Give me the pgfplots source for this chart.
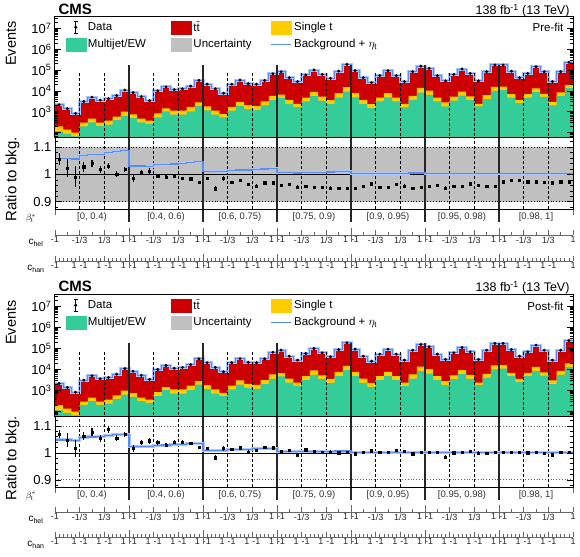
\documentclass[border=0pt]{standalone}
\usepackage{pgfplots}
\pgfplotsset{compat=1.18}
\usepackage{pgfplotstable}
\usepackage{fontspec}
\setmainfont{Liberation Sans}

\definecolor{cgreen}{RGB}{52,204,153}
\definecolor{cred}{RGB}{204,0,0}
\definecolor{cyel}{RGB}{255,204,0}
\definecolor{cgrey}{RGB}{192,192,192}
\definecolor{cblue}{RGB}{88,140,245}
\definecolor{clblue}{RGB}{170,198,255}
\newcommand{\fs}[1]{\fontsize{#1}{#1}\selectfont}

% G = Multijet/EW, Y = Multijet/EW + single t, T = total background
\pgfplotstableread{
x G Y T
0 115 200 2150
1 87 138 1400
2 66 100 830
3 200 300 3100
4 310 465 5000
5 210 300 3600
6 240 370 4200
7 400 580 6000
8 640 1000 11000
9 500 745 8300
10 310 465 5300
11 260 370 3400
12 535 830 10000
13 1040 1440 15500
14 720 1120 11500
15 720 1120 12500
16 1040 1730 17000
17 1930 2780 32000
18 1150 1790 21000
19 720 1120 12500
20 535 775 7800
21 1120 1730 21000
22 1930 3000 33000
23 1350 2090 22000
24 1200 1850 21000
25 2000 3100 32000
26 3600 5800 66000
27 4650 6700 83000
28 2400 3730 43000
29 1670 2400 28000
30 3100 4800 58000
31 5600 9000 100000
32 3450 5300 62000
33 2330 3600 40000
34 4800 7800 89000
35 9300 15000 186000
36 4900 7800 93000
37 2330 3730 43000
38 1500 2330 25000
39 3100 4800 54000
40 4900 7800 93000
41 3100 4800 54000
42 1610 2400 28000
43 3730 5800 83000
44 8300 13800 155000
45 6450 10400 120000
46 3100 4800 54000
47 1790 2780 30000
48 3450 5300 62000
49 6000 9300 112000
50 3600 5500 69000
51 1790 2400 30000
52 4000 6200 83000
53 10000 15500 175000
54 11000 16000 175000
55 4800 7000 89000
56 2600 3600 43000
57 4800 7000 69000
58 8700 13200 145000
59 5100 7200 83000
60 2000 3000 28000
61 5600 8500 83000
62 13400 19500 235000
63 13400 19500 235000
}\mainT

\pgfplotstableread{
x R1 E1 B1 U1 L1 R2 E2 B2
0 1.056 .022 1.059 1.101 .899 1.069 .015 1.048
1 1.024 .032 1.059 1.101 .899 1.048 .027 1.048
2 0.991 .038 1.056 1.101 .899 1.016 .033 1.046
3 1.028 .018 1.070 1.101 .899 1.061 .015 1.057
4 1.040 .013 1.072 1.101 .899 1.078 .015 1.059
5 1.019 .013 1.074 1.101 .899 1.054 .012 1.060
6 1.030 .012 1.080 1.101 .899 1.087 .012 1.064
7 1.001 .010 1.083 1.101 .899 1.055 .010 1.067
8 1.018 .008 1.086 1.101 .899 1.069 .010 1.069
9 0.985 .012 1.031 1.101 .899 1.016 .012 1.024
10 1.007 .010 1.031 1.101 .899 1.039 .010 1.024
11 1.012 .012 1.029 1.101 .899 1.045 .012 1.023
12 0.994 .008 1.036 1.101 .899 1.039 .008 1.028
13 0.991 .006 1.037 1.101 .899 1.030 .006 1.029
14 0.995 .007 1.038 1.101 .899 1.039 .007 1.030
15 0.985 .007 1.041 1.101 .899 1.039 .007 1.032
16 0.984 .005 1.043 1.101 .899 1.037 .005 1.034
17 0.971 .004 1.046 1.101 .899 1.021 .004 1.036
18 0.985 .006 1.012 1.101 .899 1.016 .006 1.010
19 0.948 .009 1.012 1.101 .899 0.982 .009 1.010
20 0.985 .010 1.011 1.101 .899 1.016 .010 1.009
21 0.971 .006 1.015 1.101 .899 1.014 .006 1.012
22 0.979 .004 1.016 1.101 .899 1.019 .004 1.013
23 0.963 .005 1.016 1.101 .899 1.004 .005 1.013
24 0.958 .006 1.018 1.101 .899 1.010 .006 1.015
25 0.970 .004 1.020 1.101 .899 1.021 .004 1.016
26 0.970 .003 1.022 1.101 .899 1.019 .003 1.017
27 0.961 .004 1.006 1.101 .899 1.007 .004 1.004
28 0.963 .005 1.006 1.101 .899 1.010 .005 1.004
29 0.954 .006 1.005 1.101 .899 0.991 .006 1.004
30 0.958 .004 1.007 1.101 .899 1.012 .004 1.005
31 0.954 .003 1.008 1.101 .899 1.005 .003 1.005
32 0.954 .004 1.008 1.101 .899 1.003 .004 1.006
33 0.951 .005 1.009 1.101 .899 1.004 .005 1.006
34 0.950 .004 1.010 1.101 .899 1.001 .004 1.007
35 0.950 .003 1.011 1.101 .899 1.004 .003 1.007
36 0.950 .004 1.003 1.101 .899 0.997 .004 1.001
37 0.956 .005 1.003 1.101 .899 1.003 .005 1.001
38 0.966 .006 1.003 1.101 .899 1.008 .006 1.001
39 0.954 .004 1.004 1.101 .899 1.004 .004 1.001
40 0.954 .003 1.004 1.101 .899 1.002 .003 1.001
41 0.963 .004 1.004 1.101 .899 1.010 .004 1.001
42 0.958 .006 1.004 1.101 .899 1.005 .006 1.001
43 0.950 .004 1.005 1.101 .899 0.997 .004 1.001
44 0.954 .003 1.005 1.101 .899 1.003 .003 1.001
45 0.958 .003 1.002 1.101 .899 1.002 .003 1.001
46 0.960 .004 1.002 1.101 .899 1.003 .004 1.001
47 0.951 .006 1.002 1.101 .899 0.985 .006 1.001
48 0.958 .004 1.002 1.101 .899 1.001 .004 1.001
49 0.958 .003 1.002 1.101 .899 1.002 .003 1.001
50 0.966 .005 1.002 1.101 .899 1.006 .005 1.001
51 0.960 .006 1.002 1.101 .899 1.000 .006 1.001
52 0.956 .004 1.002 1.101 .899 0.998 .004 1.001
53 0.958 .003 1.002 1.101 .899 1.002 .003 1.001
54 0.973 .003 1.002 1.101 .899 1.002 .003 1.001
55 0.978 .004 1.002 1.101 .899 1.004 .004 1.001
56 0.979 .005 1.002 1.101 .899 1.003 .005 1.001
57 0.973 .004 1.002 1.101 .899 1.001 .004 1.001
58 0.973 .003 1.002 1.101 .899 1.002 .003 1.001
59 0.971 .004 1.002 1.101 .899 0.999 .004 1.001
60 0.970 .006 1.002 1.101 .899 0.993 .006 1.001
61 0.973 .004 1.002 1.101 .899 1.003 .004 1.001
62 0.973 .003 1.002 1.101 .899 1.002 .003 1.001
63 0.973 .003 1.002 1.101 .899 1.002 .003 1.001
}\ratT

\pgfplotsset{
  myBase/.style={scale only axis, width=518pt, xmin=0, xmax=63, axis on top,
    axis line style={line width=1pt, black},
    major tick length=6pt, minor tick length=3pt,
    tick style={line width=0.6pt, black}},
  myLeg/.style={
    legend style={at={(0.018,0.985)}, anchor=north west, draw=none, fill=none,
      font=\fs{11.5}, row sep=3pt, inner sep=1pt,
      /tikz/column 2/.style={column sep=23pt},
      /tikz/column 4/.style={column sep=17pt}},
    legend columns=3, legend cell align=left},
  myRatio/.style={myBase, ymin=0.87, ymax=1.133, xtick=\empty,
    ytick={0.9,1,1.1}, yticklabels={0.9,1,1.1},
    minor ytick={0.88,0.92,0.94,0.96,0.98,1.02,1.04,1.06,1.08,1.12},
    yticklabel style={font=\fs{13}}},
  myBrow/.style={scale only axis, width=518pt, height=12pt, xmin=0, xmax=63, ymin=0, ymax=1, hide axis, clip=false},
  myRow/.style={scale only axis, width=518pt, height=6pt, xmin=0, xmax=63, ymin=0, ymax=1,
    axis x line*=bottom, axis y line=none,
    x axis line style={line width=0.6pt, black!60},
    tick style={black!60, line width=0.6pt}, tick align=inside,
    xticklabel style={font=\fs{9}, inner sep=1.5pt, text=black!85},
    major tick length=5pt, minor tick length=3pt,
    extra x ticks={9,18,27,36,45,54}, extra x tick labels={},
    extra x tick style={major tick length=14pt, tick align=center, tick style={line width=1pt, black!60}}},
  myHel/.style={xtick={0,3,...,63}, minor xtick={1.5,4.5,...,61.5},
    xticklabels={{-1},{-1/3},{1/3},{1\hspace{3pt}-1},{-1/3},{1/3},{1\hspace{3pt}-1},{-1/3},{1/3},{1\hspace{3pt}-1},{-1/3},{1/3},{1\hspace{3pt}-1},{-1/3},{1/3},{1\hspace{3pt}-1},{-1/3},{1/3},{1\hspace{3pt}-1},{-1/3},{1/3},{1}}},
  myHan/.style={xtick={0,3,...,63}, minor xtick={0.5,1,...,62.5},
    xticklabels={{-1},{1\hspace{3pt}-1},{1\hspace{3pt}-1},{1\hspace{3pt}-1},{1\hspace{3pt}-1},{1\hspace{3pt}-1},{1\hspace{3pt}-1},{1\hspace{3pt}-1},{1\hspace{3pt}-1},{1\hspace{3pt}-1},{1\hspace{3pt}-1},{1\hspace{3pt}-1},{1\hspace{3pt}-1},{1\hspace{3pt}-1},{1\hspace{3pt}-1},{1\hspace{3pt}-1},{1\hspace{3pt}-1},{1\hspace{3pt}-1},{1\hspace{3pt}-1},{1\hspace{3pt}-1},{1\hspace{3pt}-1},{1}}},
}

\newcommand{\legendentries}{%
  \addlegendimage{legend image code/.code={\draw[black,line width=0.9pt] (10pt,-6pt)--(10pt,6pt) (8pt,-6pt)--(12pt,-6pt) (8pt,6pt)--(12pt,6pt); \fill[black] (10pt,0pt) circle (1.4pt);}}
  \addlegendentry{Data}
  \addlegendimage{legend image code/.code={\fill[cred] (0pt,-6.5pt) rectangle (20pt,6.5pt);}}
  \addlegendentry{t\=t}
  \addlegendimage{legend image code/.code={\fill[cyel] (0pt,-6.5pt) rectangle (20pt,6.5pt);}}
  \addlegendentry{Single t}
  \addlegendimage{legend image code/.code={\fill[cgreen] (0pt,-6.5pt) rectangle (20pt,6.5pt);}}
  \addlegendentry{Multijet/EW}
  \addlegendimage{legend image code/.code={\fill[cgrey] (0pt,-6.5pt) rectangle (20pt,6.5pt);}}
  \addlegendentry{Uncertainty}
  \addlegendimage{legend image code/.code={\draw[cblue,line width=1.5pt] (0pt,0pt)--(20pt,0pt);}}
  \addlegendentry{Background + $\eta_{\mathrm{t}}$}
}

\newcommand{\mainplots}{%
  \addplot[const plot, fill=cred, draw=none, forget plot] table[x=x,y=T]{\mainT} \closedcycle;
  \addplot[const plot, fill=cyel, draw=none, forget plot] table[x=x,y=Y]{\mainT} \closedcycle;
  \addplot[const plot, fill=cgreen, draw=none, forget plot] table[x=x,y=G]{\mainT} \closedcycle;
  \addplot[const plot, draw=clblue, line width=3pt, forget plot] table[x=x,y=T]{\mainT};
  \addplot[const plot, draw=cblue, line width=1pt, forget plot] table[x=x,y=T]{\mainT};
  \pgfplotsinvokeforeach{3,6,12,15,21,24,30,33,39,42,48,51,57,60}{\addplot[black, line width=0.7pt, dash pattern=on 3pt off 2pt, forget plot] coordinates {(##1,40) (##1,7e4)};}
  \pgfplotsinvokeforeach{9,18,27,36,45,54}{\addplot[black!85, line width=1.6pt, forget plot] coordinates {(##1,40) (##1,1.75e5)};}
  \addplot[only marks, mark=*, mark size=1.3pt, black, forget plot, skip coords between index={63}{64}] table[x expr=\thisrow{x}+0.5, y=T]{\mainT};
}

\newcommand{\ratioseps}{%
  \pgfplotsinvokeforeach{3,6,12,15,21,24,30,33,39,42,48,51,57,60}{\addplot[black, line width=0.7pt, dash pattern=on 3pt off 2pt, forget plot] coordinates {(##1,0.8) (##1,1.2)};}
  \pgfplotsinvokeforeach{9,18,27,36,45,54}{\addplot[black!85, line width=1.6pt, forget plot] coordinates {(##1,0.8) (##1,1.2)};}
}

\newcommand{\betarow}{%
  \pgfplotsinvokeforeach{9,18,27,36,45,54}{\addplot[black!85, line width=1.6pt] coordinates {(##1,0) (##1,1)};}
  \addplot[black!60, line width=0.6pt] coordinates {(0,0.55) (0,1)};
  \addplot[black!60, line width=0.6pt] coordinates {(63,0.55) (63,1)};
  \node[font=\fs{9.5}, text=black!80] at (axis cs:4.5,0.45) {[0, 0.4)};
  \node[font=\fs{9.5}, text=black!80] at (axis cs:13.5,0.45) {[0.4, 0.6)};
  \node[font=\fs{9.5}, text=black!80] at (axis cs:22.5,0.45) {[0.6, 0.75)};
  \node[font=\fs{9.5}, text=black!80] at (axis cs:31.5,0.45) {[0.75, 0.9)};
  \node[font=\fs{9.5}, text=black!80] at (axis cs:40.5,0.45) {[0.9, 0.95)};
  \node[font=\fs{9.5}, text=black!80] at (axis cs:49.5,0.45) {[0.95, 0.98)};
  \node[font=\fs{9.5}, text=black!80] at (axis cs:58.5,0.45) {[0.98, 1]};
}

\begin{document}
\begin{tikzpicture}[x=1pt,y=1pt]
\useasboundingbox (0,0) rectangle (580,556);

% ================= TOP: PRE-FIT =================
\begin{semilogyaxis}[myBase, myLeg, at={(55pt,418pt)}, anchor=south west, height=121pt,
    ymin=55, ymax=3.5e7, xtick=\empty,
    ytick={1e2,1e3,1e4,1e5,1e6,1e7},
    yticklabels={,10\textsuperscript{3},10\textsuperscript{4},10\textsuperscript{5},10\textsuperscript{6},10\textsuperscript{7}},
    minor ytick={60,70,80,90,200,300,400,500,600,700,800,900,2000,3000,4000,5000,6000,7000,8000,9000,20000,30000,40000,50000,60000,70000,80000,90000,2e5,3e5,4e5,5e5,6e5,7e5,8e5,9e5,2e6,3e6,4e6,5e6,6e6,7e6,8e6,9e6,2e7,3e7},
    yticklabel style={font=\fs{13}}]
  \mainplots
  \legendentries
  \node[anchor=east, font=\fs{11.5}] at (rel axis cs:0.988,0.91) {Pre-fit};
\end{semilogyaxis}
\begin{axis}[myRatio, at={(55pt,346pt)}, anchor=south west, height=72pt]
  \addplot[const plot, fill=cgrey, draw=none, forget plot] table[x=x,y=U1]{\ratT} \closedcycle;
  \addplot[const plot, fill=white, draw=none, forget plot] table[x=x,y=L1]{\ratT} \closedcycle;
  \addplot[black, line width=0.8pt, dotted] coordinates {(0,0.9) (63,0.9)};
  \addplot[black, line width=0.8pt, dotted] coordinates {(0,1.1) (63,1.1)};
  \addplot[black, line width=0.8pt] coordinates {(0,1) (63,1)};
  \ratioseps
  \addplot[const plot, draw=clblue, line width=2.5pt] table[x=x,y=B1]{\ratT};
  \addplot[const plot, draw=cblue, line width=1.2pt] table[x=x,y=B1]{\ratT};
  \addplot[only marks, mark=square*, mark size=1.1pt, black, skip coords between index={63}{64},
    error bars/.cd, y dir=both, y explicit, error mark=none, error bar style={line width=1.2pt}]
    table[x expr=\thisrow{x}+0.5, y=R1, y error=E1]{\ratT};
\end{axis}
\begin{axis}[myBrow, at={(55pt,334pt)}, anchor=south west]
  \betarow
\end{axis}
\begin{axis}[myRow, myHel, at={(55pt,321pt)}, anchor=south west]
\end{axis}
\begin{axis}[myRow, myHan, at={(55pt,295pt)}, anchor=south west]
\end{axis}

\node[anchor=base west, font=\bfseries\fs{15}] at (55,541) {CMS};
\node[anchor=base east, font=\fs{12.5}] at (573,541) {138 fb\textsuperscript{-1} (13 TeV)};
\node[rotate=90, anchor=east, font=\fs{14.5}] at (11,538) {Events};
\node[rotate=90, anchor=center, font=\fs{15}] at (12.5,376.5) {Ratio to bkg.};
\node[font=\fs{9}] at (31,337.5) {$\beta_{\mathrm{t}}^{*}$};
\node[font=\fs{10}] at (36,313) {c\textsubscript{hel}};
\node[font=\fs{10}] at (36,287) {c\textsubscript{han}};

% ================= BOTTOM: POST-FIT =================
\begin{semilogyaxis}[myBase, myLeg, at={(55pt,139pt)}, anchor=south west, height=122pt,
    ymin=55, ymax=3.5e7, xtick=\empty,
    ytick={1e2,1e3,1e4,1e5,1e6,1e7},
    yticklabels={,10\textsuperscript{3},10\textsuperscript{4},10\textsuperscript{5},10\textsuperscript{6},10\textsuperscript{7}},
    minor ytick={60,70,80,90,200,300,400,500,600,700,800,900,2000,3000,4000,5000,6000,7000,8000,9000,20000,30000,40000,50000,60000,70000,80000,90000,2e5,3e5,4e5,5e5,6e5,7e5,8e5,9e5,2e6,3e6,4e6,5e6,6e6,7e6,8e6,9e6,2e7,3e7},
    yticklabel style={font=\fs{13}}]
  \mainplots
  \legendentries
  \node[anchor=east, font=\fs{11.5}] at (rel axis cs:0.988,0.91) {Post-fit};
\end{semilogyaxis}
\begin{axis}[myRatio, at={(55pt,68pt)}, anchor=south west, height=71pt]
  \addplot[black!60, line width=0.8pt, dotted] coordinates {(0,0.9) (63,0.9)};
  \addplot[black!60, line width=0.8pt, dotted] coordinates {(0,1.1) (63,1.1)};
  \addplot[black, line width=0.8pt] coordinates {(0,1) (63,1)};
  \ratioseps
  \addplot[const plot, draw=clblue, line width=3pt] table[x=x,y=B2]{\ratT};
  \addplot[const plot, draw=cblue, line width=1.2pt] table[x=x,y=B2]{\ratT};
  \addplot[only marks, mark=square*, mark size=1.1pt, black, skip coords between index={63}{64},
    error bars/.cd, y dir=both, y explicit, error mark=none, error bar style={line width=1.2pt}]
    table[x expr=\thisrow{x}+0.5, y=R2, y error=E2]{\ratT};
\end{axis}
\begin{axis}[myBrow, at={(55pt,56pt)}, anchor=south west]
  \betarow
\end{axis}
\begin{axis}[myRow, myHel, at={(55pt,44pt)}, anchor=south west]
\end{axis}
\begin{axis}[myRow, myHan, at={(55pt,19pt)}, anchor=south west]
\end{axis}

\node[anchor=base west, font=\bfseries\fs{15}] at (55,264) {CMS};
\node[anchor=base east, font=\fs{12.5}] at (573,264) {138 fb\textsuperscript{-1} (13 TeV)};
\node[rotate=90, anchor=east, font=\fs{14.5}] at (11,259) {Events};
\node[rotate=90, anchor=center, font=\fs{15}] at (12.5,97.5) {Ratio to bkg.};
\node[font=\fs{9}] at (31,60) {$\beta_{\mathrm{t}}^{*}$};
\node[font=\fs{10}] at (36,36) {c\textsubscript{hel}};
\node[font=\fs{10}] at (36,11) {c\textsubscript{han}};
\end{tikzpicture}
\end{document}
